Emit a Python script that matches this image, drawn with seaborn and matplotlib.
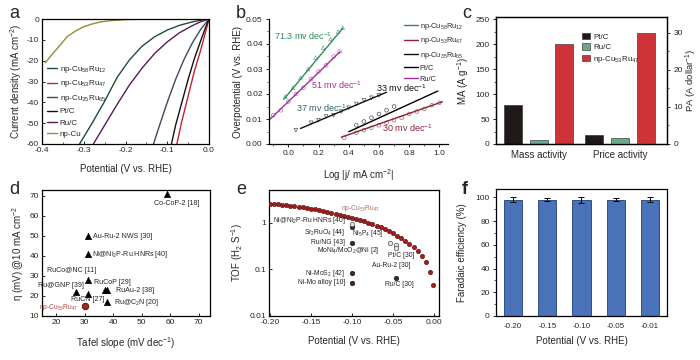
import numpy as np
import pandas as pd
import matplotlib
matplotlib.use('Agg')
import matplotlib.pyplot as plt
import seaborn as sns
from matplotlib.ticker import MultipleLocator, FixedLocator, NullFormatter

# ------------------------------------------------------------------ data
# (a) polarization curves
a_names = ['np-Cu$_{58}$Ru$_{12}$', 'np-Cu$_{53}$Ru$_{47}$', 'np-Cu$_{35}$Ru$_{65}$',
           'Pt/C', 'Ru/C', 'np-Cu']
a_cu58_v = [-0.31, -0.28, -0.25, -0.22, -0.19, -0.16, -0.13, -0.10, -0.07, -0.04, -0.02, 0.0]
a_cu58_j = [-60, -50, -39.5, -28, -19.5, -13, -8.5, -5.3, -3.0, -1.4, -0.6, 0.0]
a_cu53_v = [-0.077, -0.065, -0.05, -0.035, -0.02, -0.01, 0.0]
a_cu53_j = [-60, -49, -37, -25, -15, -7.5, 0.0]
a_cu35_v = [-0.133, -0.12, -0.10, -0.08, -0.06, -0.04, -0.02, 0.0]
a_cu35_j = [-60, -52, -40, -29, -19.5, -11.5, -5, 0.0]
a_pt_v = [-0.090, -0.08, -0.065, -0.05, -0.035, -0.02, -0.01, 0.0]
a_pt_j = [-60, -51, -40, -29, -19, -10.5, -5, 0.0]
a_ru_v = [-0.277, -0.25, -0.22, -0.19, -0.16, -0.13, -0.10, -0.07, -0.04, -0.02, 0.0]
a_ru_j = [-60, -51, -41, -31.5, -23.5, -16.5, -11, -6.5, -3.2, -1.3, 0.0]
a_cu_v = [-0.392, -0.38, -0.365, -0.35, -0.34, -0.32, -0.30, -0.28, -0.26, -0.23, -0.20, -0.15, -0.10, 0.0]
a_cu_j = [-21, -18, -14.5, -11, -8.5, -5.8, -3.7, -2.4, -1.4, -0.7, -0.3, -0.1, -0.03, 0.0]

# (b) Tafel plots
b_names = ['np-Cu$_{58}$Ru$_{12}$', 'np-Cu$_{53}$Ru$_{47}$', 'np-Cu$_{35}$Ru$_{65}$', 'Pt/C', 'Ru/C']
b_slopes = ['71.3 mv dec$^{-1}$', '30 mv dec$^{-1}$', '37 mv dec$^{-1}$', '33 mv dec$^{-1}$', '51 mv dec$^{-1}$']
b_fit_x = [[-0.03, 0.36], [0.35, 1.02], [0.08, 0.65], [0.40, 0.99], [-0.128, 0.342]]
b_fit_y = [[0.0179, 0.0463], [0.0027, 0.0169], [0.0062, 0.0207], [0.0049, 0.0212], [0.0095, 0.0369]]
b_pts_x = [[-0.02, 0.03, 0.08, 0.13, 0.18, 0.23, 0.28, 0.33, 0.36],
           [0.37, 0.45, 0.50, 0.55, 0.60, 0.65, 0.70, 0.75, 0.80, 0.85, 0.90, 0.95, 1.00],
           [0.05, 0.15, 0.20, 0.25, 0.30, 0.35, 0.40, 0.45, 0.50, 0.55, 0.60],
           [0.45, 0.50, 0.55, 0.60, 0.65, 0.70],
           [-0.10, -0.05, 0.0, 0.05, 0.10, 0.15, 0.20, 0.25, 0.30, 0.34]]
b_pts_y = [[0.0190, 0.0225, 0.0265, 0.0300, 0.0345, 0.0385, 0.0420, 0.0450, 0.0465],
           [0.0025, 0.0045, 0.0055, 0.0065, 0.0075, 0.0085, 0.0095, 0.0105, 0.0120, 0.0130, 0.0140, 0.0155, 0.0165],
           [0.0055, 0.0085, 0.0095, 0.0110, 0.0115, 0.0130, 0.0145, 0.0160, 0.0175, 0.0185, 0.0195],
           [0.0075, 0.0090, 0.0105, 0.0120, 0.0135, 0.0150],
           [0.0115, 0.0135, 0.0170, 0.0200, 0.0225, 0.0260, 0.0290, 0.0315, 0.0350, 0.0370]]

# (c) activities
c_groups = ['Mass activity', 'Price activity']
c_catalysts = ['Pt/C', 'Ru/C', 'np-Cu$_{53}$Ru$_{47}$']
c_mass = [79, 8, 200]
c_price = [2.3, 1.5, 29.8]

# (d) comparison of Tafel slope vs overpotential
d_names = ['Co-CoP-2 [18]', 'Au-Ru-2 NWS [30]', 'Ni@Ni$_2$P-Ru HNRs [40]', 'RuCo@NC [11]',
           'Ru@GNP [39]', 'RuCN [27]', 'RuCoP [29]', 'RuAu-2 [38]', 'Ru@C$_2$N [20]']
d_tafel = [59, 31, 31, 31, 27, 31, 37, 38, 38]
d_eta = [71, 50, 41, 28, 22, 21, 23, 23, 17]
d_this_name = 'np-Cu$_{53}$Ru$_{47}$'
d_this_tafel = [30]
d_this_eta = [15]

# (e) TOF
e_pot = [-0.200, -0.195, -0.190, -0.185, -0.180, -0.175, -0.170, -0.165, -0.160, -0.155,
         -0.150, -0.145, -0.140, -0.135, -0.130, -0.125, -0.120, -0.115, -0.110, -0.105,
         -0.100, -0.095, -0.090, -0.085, -0.080, -0.075, -0.070, -0.065, -0.060, -0.055,
         -0.050, -0.045, -0.040, -0.035, -0.030, -0.025, -0.020, -0.015, -0.010, -0.005, -0.001]
e_tof = [2.55, 2.50, 2.45, 2.40, 2.35, 2.29, 2.24, 2.18, 2.12, 2.05,
         1.99, 1.92, 1.85, 1.78, 1.70, 1.62, 1.55, 1.47, 1.40, 1.34,
         1.28, 1.20, 1.13, 1.06, 0.99, 0.93, 0.86, 0.80, 0.73, 0.67,
         0.60, 0.53, 0.47, 0.41, 0.35, 0.30, 0.25, 0.19, 0.14, 0.089, 0.046]
e_ref_names = ['Ni@Ni$_2$P-Ru HNRs [40]', 'Sr$_2$RuO$_4$ [44]', 'Ni$_5$P$_4$ [45]', 'Ru/NG [43]',
               'MoNi$_4$/MoO$_2$@Ni [2]', 'Pt/C [30]', 'Ni-MoS$_2$ [42]', 'Ni-Mo alloy [10]', 'Ru/C [30]']
e_ref_pot = [-0.10, -0.10, -0.054, -0.10, -0.046, -0.046, -0.10, -0.10, -0.046]
e_ref_tof = [0.95, 0.80, 0.37, 0.37, 0.33, 0.28, 0.082, 0.052, 0.066]
e_ref_light = [True, False, True, False, True, True, False, False, False]
e_extra_label = 'Au-Ru-2 [30]'

# (f) Faradaic efficiency
f_pot = ['-0.20', '-0.15', '-0.10', '-0.05', '-0.01']
f_fe = [98, 98, 98, 98, 98]
f_err = [2.0, 1.0, 2.5, 1.5, 2.0]

# ------------------------------------------------------------------ style
sns.set_theme(style='ticks')
plt.rcParams['font.family'] = ['Liberation Sans', 'DejaVu Sans']
plt.rcParams['mathtext.default'] = 'regular'
plt.rcParams['axes.linewidth'] = 0.9
TICK = 6
LAB = 7

fig = plt.figure(figsize=(7, 3.6), dpi=100)


def rect(l, r, t, b):
    return [l / 700, 1 - b / 360, (r - l) / 700, (b - t) / 360]


def style_ax(ax, direction='in'):
    ax.tick_params(labelsize=TICK, direction=direction, length=2.5, width=0.7, pad=2)
    ax.tick_params(which='minor', direction=direction, length=1.5, width=0.5)
    for s in ax.spines.values():
        s.set_color('black')


# ---------------- (a)
ax = fig.add_axes(rect(42, 209, 19, 144))
a_cols = ['#1e4d33', '#c8232c', '#3d4a5c', '#111111', '#5a1a5a', '#9a8a3a']
a_v = [a_cu58_v, a_cu53_v, a_cu35_v, a_pt_v, a_ru_v, a_cu_v]
a_j = [a_cu58_j, a_cu53_j, a_cu35_j, a_pt_j, a_ru_j, a_cu_j]
for name, v, j, c in zip(a_names, a_v, a_j, a_cols):
    sns.lineplot(x=v, y=j, ax=ax, color=c, lw=1.0, label=name, estimator=None, sort=False)
ax.set_xlim(-0.4, 0.0)
ax.set_ylim(-60, 0)
ax.xaxis.set_minor_locator(MultipleLocator(0.05))
ax.set_xticks([-0.4, -0.3, -0.2, -0.1, 0.0])
ax.set_xticklabels(['-0.4', '-0.3', '-0.2', '-0.1', '0.0'])
ax.set_yticks([0, -10, -20, -30, -40, -50, -60])
ax.set_yticklabels(['0', '-10', '-20', '-30', '-40', '-50', '-60'])
style_ax(ax, 'in')
ax.set_xlabel('Potential (V vs. RHE)', fontsize=LAB, labelpad=7)
ax.set_ylabel('Current density (mA cm$^{-2}$)', fontsize=LAB, labelpad=2)
ax.legend(loc='upper left', bbox_to_anchor=(0.0, 0.68), fontsize=5.8, frameon=False,
          handlelength=1.3, handletextpad=0.3, labelspacing=0.45, borderaxespad=0.2)
fig.text(9 / 700, 1 - 14 / 360, 'a', fontsize=13, va='center')

# ---------------- (b)
ax = fig.add_axes(rect(269, 448, 19, 144))
b_cols = ['#2e8b57', '#8b2335', '#111111', '#000000', '#a0309a']
b_mk = ['^', 'o', 'v', 'o', 'o']
for i in range(5):
    sns.lineplot(x=b_fit_x[i], y=b_fit_y[i], ax=ax, color=b_cols[i], lw=1.0,
                 label=b_names[i], estimator=None, sort=False)
    sns.scatterplot(x=b_pts_x[i], y=b_pts_y[i], ax=ax, marker=b_mk[i], s=7,
                    facecolor='none', edgecolor=b_cols[i], linewidth=0.5, alpha=0.7)
ax.set_xlim(-0.128, 1.057)
ax.set_ylim(0, 0.05)
ax.set_xticks([0.0, 0.2, 0.4, 0.6, 0.8, 1.0])
ax.set_xticklabels(['0.0', '0.2', '0.4', '0.6', '0.8', '1.0'])
ax.set_yticks([0.0, 0.01, 0.02, 0.03, 0.04, 0.05])
ax.set_yticklabels(['0.00', '0.01', '0.02', '0.03', '0.04', '0.05'])
ax.xaxis.set_minor_locator(MultipleLocator(0.1))
ax.yaxis.set_minor_locator(MultipleLocator(0.005))
style_ax(ax, 'out')
sns.despine(ax=ax)
ax.set_xlabel('Log |j/ mA cm$^{-2}$|', fontsize=LAB, labelpad=7)
ax.set_ylabel('Overpotential (V vs. RHE)', fontsize=LAB, labelpad=2)
lab_pos = [(-0.095, 0.043), (0.62, 0.0065), (0.05, 0.0145), (0.58, 0.0225), (0.15, 0.0235)]
lab_col = ['#2e8b57', '#8b2335', '#2f5f70', '#111111', '#a0309a']
for (x, y), t, c in zip(lab_pos, b_slopes, lab_col):
    ax.text(x, y, t, fontsize=6.5, color=c, ha='left', va='center')
ax.legend(loc='upper right', bbox_to_anchor=(1.12, 1.04), fontsize=5.3, frameon=False,
          handlelength=1.8, handletextpad=0.3, labelspacing=0.5)
fig.text(236 / 700, 1 - 14 / 360, 'b', fontsize=13, va='center')

# ---------------- (c)
ax = fig.add_axes(rect(496, 667, 17, 144))
ax2 = ax.twinx()
c_cols = ['#231815', '#5fb38a', '#e8191e']
df_m = pd.DataFrame({'group': [c_groups[0]] * 3, 'cat': c_catalysts, 'val': c_mass})
df_p = pd.DataFrame({'group': [c_groups[1]] * 3, 'cat': c_catalysts, 'val': c_price})
sns.barplot(data=df_m, x='group', y='val', hue='cat', order=c_groups, hue_order=c_catalysts,
            palette=c_cols, width=0.95, ax=ax, legend=True, edgecolor='#222222', linewidth=0.4)
sns.barplot(data=df_p, x='group', y='val', hue='cat', order=c_groups, hue_order=c_catalysts,
            palette=c_cols, width=0.95, ax=ax2, legend=False, edgecolor='#222222', linewidth=0.4)
for a_ in (ax, ax2):
    for p in a_.patches:
        cx = p.get_x() + p.get_width() / 2
        p.set_width(0.22)
        p.set_x(cx - 0.11)
handles, labels = ax.get_legend_handles_labels()
ax.get_legend().remove()
ax2.legend(handles, labels, loc='upper left', bbox_to_anchor=(0.46, 0.93), fontsize=5.8,
           frameon=False, handlelength=1.0, handleheight=0.8, handletextpad=0.4, labelspacing=0.3)
ax.set_xlim(-0.52, 1.57)
ax.set_ylim(0, 255)
ax2.set_ylim(0, 34.2)
ax.set_yticks([0, 50, 100, 150, 200, 250])
ax.yaxis.set_minor_locator(MultipleLocator(25))
ax2.set_yticks([0, 10, 20, 30])
ax2.yaxis.set_minor_locator(MultipleLocator(5))
style_ax(ax, 'out')
style_ax(ax2, 'out')
ax.tick_params(axis='x', length=0, labelsize=LAB, pad=4)
ax.set_xlabel('')
ax.set_ylabel('MA (A g$^{-1}$)', fontsize=LAB, labelpad=3)
ax2.set_ylabel('PA (A dollar$^{-1}$)', fontsize=6.8, labelpad=1)
fig.text(462 / 700, 1 - 14 / 360, 'c', fontsize=13, va='center')

# ---------------- (d)
ax = fig.add_axes(rect(42, 210, 190, 316))
sns.scatterplot(x=d_tafel, y=d_eta, ax=ax, marker='^', s=22, color='black', edgecolor='black')
sns.scatterplot(x=d_this_tafel, y=d_this_eta, ax=ax, marker='o', s=22, color='#a3271f',
                edgecolor='#4a0a0a', linewidth=0.6)
d_off = [(-9.6, -6.5, 'left'), (4, 0, 'left'), (3, 0, 'left'), (-11.5, 7.2, 'center'),
         (-11.3, 4.5, 'center'), (0, -3.8, 'center'), (5.3, 5.5, 'center'), (6, -0.5, 'left'),
         (4.8, -0.5, 'left')]
for n, x, y, (dx, dy, ha) in zip(d_names, d_tafel, d_eta, d_off):
    ax.annotate(n, (x, y), xytext=(dx, dy), textcoords='offset points', fontsize=5.1,
                ha=ha, va='center')
ax.annotate(d_this_name, (d_this_tafel[0], d_this_eta[0]), xytext=(-4.5, -1.2),
            textcoords='offset points', fontsize=4.8, ha='right', va='center', color='#b0403a')
ax.set_xlim(15, 74)
ax.set_ylim(10, 73)
ax.set_xticks([20, 30, 40, 50, 60, 70])
ax.set_yticks([10, 20, 30, 40, 50, 60, 70])
style_ax(ax, 'in')
ax.set_xlabel('Tafel slope (mV dec$^{-1}$)', fontsize=LAB, labelpad=7)
ax.set_ylabel('η (mV) @10 mA cm$^{-2}$', fontsize=LAB, labelpad=3)
fig.text(9 / 700, 1 - 190 / 360, 'd', fontsize=13, va='center')

# ---------------- (e)
ax = fig.add_axes(rect(269, 439, 190, 316))
sns.scatterplot(x=e_pot, y=e_tof, ax=ax, marker='o', s=10, color='#a11c1c',
                edgecolor='#5a0d0d', linewidth=0.4, zorder=3)
light = [i for i, l in enumerate(e_ref_light) if l]
dark = [i for i, l in enumerate(e_ref_light) if not l]
sns.scatterplot(x=[e_ref_pot[i] for i in dark], y=[e_ref_tof[i] for i in dark], ax=ax,
                marker='o', s=11, color='#3b2a2a', edgecolor='#1a1010', linewidth=0.4, zorder=4)
sns.scatterplot(x=[e_ref_pot[i] for i in light], y=[e_ref_tof[i] for i in light], ax=ax,
                marker='o', s=10, color='#e6e6e6', edgecolor='#555555', linewidth=0.5, zorder=4)
ax.set_yscale('log')
e_off = [(-4.3, 2, 'right'), (-5, -3.8, 'right'), (-4.8, 7, 'right'), (-5, 0.5, 'right'),
         (-12, -3.6, 'right'), (3.6, -4.8, 'center'), (-5, 0, 'right'), (-5, 0, 'right'),
         (2.4, -4.8, 'center')]
for n, x, y, (dx, dy, ha) in zip(e_ref_names, e_ref_pot, e_ref_tof, e_off):
    ax.annotate(n, (x, y), xytext=(dx, dy), textcoords='offset points', fontsize=4.9,
                ha=ha, va='center')
ax.text(-0.052, 0.123, e_extra_label, fontsize=4.9, ha='center', va='center')
ax.text(-0.09, 1.99, 'np-Cu$_{53}$Ru$_{47}$', fontsize=4.8, ha='center', va='center', color='#b06a6a')
ax.set_xlim(-0.201, 0.006)
ax.set_ylim(0.01, 5)
ax.yaxis.set_major_locator(FixedLocator([0.01, 0.1, 1]))
ax.yaxis.set_minor_locator(FixedLocator([]))
ax.set_yticklabels(['0.01', '0.1', '1'])
ax.set_xticks([-0.20, -0.15, -0.10, -0.05, 0.00])
ax.set_xticklabels(['-0.20', '-0.15', '-0.10', '-0.05', '0.00'])
style_ax(ax, 'in')
ax.set_xlabel('Potential (V vs. RHE)', fontsize=LAB, labelpad=7)
ax.set_ylabel('TOF (H$_2$ S$^{-1}$)', fontsize=LAB, labelpad=3)
fig.text(236 / 700, 1 - 190 / 360, 'e', fontsize=13, va='center')

# ---------------- (f)
ax = fig.add_axes(rect(496, 667, 189, 316))
df_f = pd.DataFrame({'pot': f_pot, 'fe': f_fe})
sns.barplot(data=df_f, x='pot', y='fe', ax=ax, color='#4a72b8', width=0.53,
            edgecolor='#1f3f78', linewidth=0.6, errorbar=None, saturation=1)
ax.errorbar(np.arange(len(f_fe)), f_fe, yerr=f_err, fmt='none', ecolor='black',
            elinewidth=0.7, capsize=2, capthick=0.7)
ax.set_xlim(-0.5, 4.5)
ax.set_ylim(0, 107)
ax.set_yticks([0, 20, 40, 60, 80, 100])
ax.yaxis.set_minor_locator(MultipleLocator(10))
style_ax(ax, 'out')
ax.tick_params(axis='x', length=0, labelsize=5.8, pad=5)
ax.set_xlabel('Potential (V vs. RHE)', fontsize=LAB, labelpad=4)
ax.set_ylabel('Faradaic efficiency (%)', fontsize=LAB, labelpad=6)
fig.text(462 / 700, 1 - 190 / 360, 'f', fontsize=13, va='center', fontweight='bold')

fig.savefig('out.png', dpi=100)
